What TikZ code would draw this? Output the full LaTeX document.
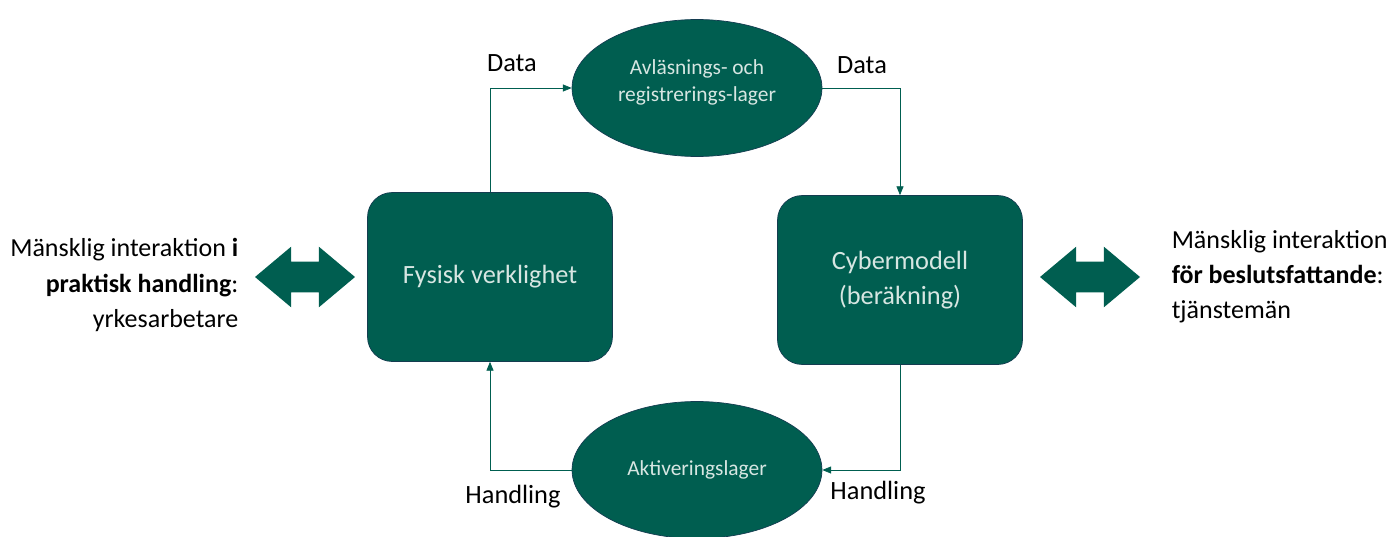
\documentclass[tikz,border=0pt]{standalone}
\usepackage{fontspec}
\setmainfont{Carlito}
\usetikzlibrary{positioning,arrows.meta,shapes.geometric,shapes.arrows}

\definecolor{skog}{RGB}{0,94,80}
\definecolor{kant}{RGB}{20,60,80}
\definecolor{ljus}{RGB}{215,230,226}

\tikzset{
  box/.style={draw=kant,fill=skog,rounded corners=14pt,minimum width=4.9cm,minimum height=3.38cm,
              text=ljus,align=center,font=\fontsize{15}{19.5}\selectfont},
  lager/.style={draw=kant,fill=skog,ellipse,minimum width=5cm,minimum height=2.74cm,
              text=ljus,align=center,font=\fontsize{12.2}{15.5}\selectfont},
  flode/.style={draw=skog,-{Triangle[length=5pt,width=4pt]}},
  dubbel/.style={fill=skog,double arrow,minimum height=2cm,minimum width=1.2cm,
              text height=0.3cm,text depth=0.3cm,inner sep=0pt,
              double arrow head extend=0.3cm,double arrow tip angle=80},
  etikett/.style={font=\fontsize{15}{18}\selectfont},
  mensklig/.style={font=\fontsize{14.8}{20}\selectfont}
}

\begin{document}
\begin{tikzpicture}[x=0.02cm,y=-0.02cm]
\useasboundingbox (0,0) rectangle (1390,537);

\node    (fys)    at (490,277)    [box]      {Fysisk verklighet};
\node    (cyb)    at (900,280)    [box]      {Cybermodell\\(beräkning)};
\node    (avl)    at (697,88)     [lager,text depth=0.3cm]    {Avläsnings- och\\registrerings-lager};
\node    (akt)    at (697,470)    [lager]    {Aktiveringslager};

\draw    [flode]    (fys.north)    |-    (avl.west);
\draw    [flode]    (avl.east)     -|    (cyb.north);
\draw    [flode]    (cyb.south)    |-    (akt.east);
\draw    [flode]    (akt.west)     -|    (fys.south);

\node    (d1)    at (512,63)     [etikett]    {Data};
\node    (d2)    at (862,65)     [etikett]    {Data};
\node    (h1)    at (513,497)    [etikett]    {Handling};
\node    (h2)    at (878,493)    [etikett]    {Handling};

\node    (pil1)    at (305,277)    [dubbel]    {};
\node    (pil2)    at (1090,277)   [dubbel]    {};

\node    (prakt)    [left=0.2cm of pil1,yshift=-0.16cm,align=right,mensklig]
         {Mänsklig interaktion \textbf{i}\\\textbf{praktisk handling}:\\yrkesarbetare};
\node    (beslut)   [right=0.5cm of pil2,align=left,mensklig]
         {Mänsklig interaktion\\\textbf{för beslutsfattande}:\\tjänstemän};
\end{tikzpicture}
\end{document}
